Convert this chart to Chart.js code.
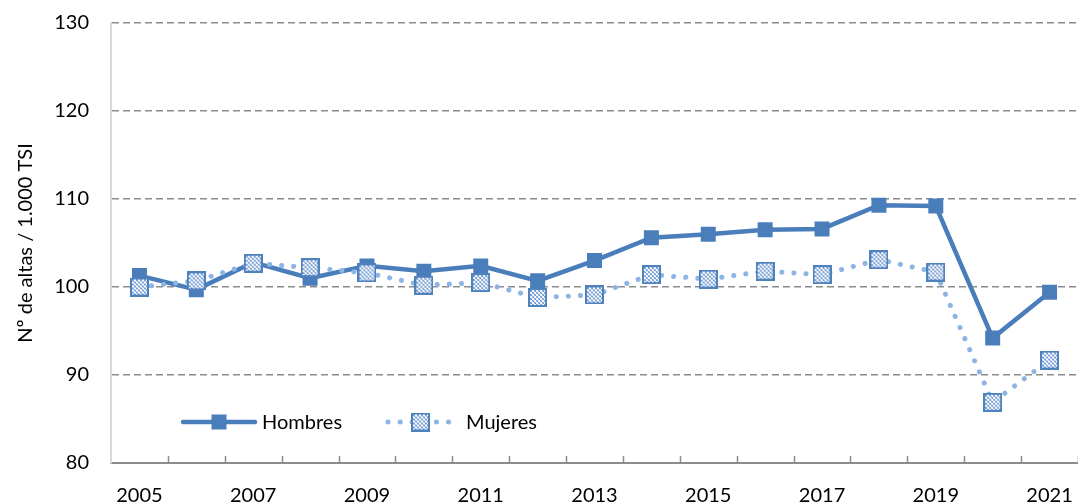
<!DOCTYPE html>
<html><head><meta charset="utf-8">
<script src="https://cdn.jsdelivr.net/npm/chart.js@4"></script>
<style>html,body{margin:0;padding:0;background:#fff}#wrap{width:1078px;height:504px}</style>
</head><body><div id="wrap"><canvas id="c" width="1078" height="504"></canvas></div>
<script>
const years = ['2005','2006','2007','2008','2009','2010','2011','2012','2013','2014','2015','2016','2017','2018','2019','2020','2021'];
const hombres = [101.3, 99.7, 102.8, 101.0, 102.4, 101.8, 102.4, 100.7, 103.0, 105.6, 106.0, 106.5, 106.6, 109.3, 109.2, 94.2, 99.4];
const mujeres = [100.0, 100.7, 102.7, 102.2, 101.6, 100.2, 100.5, 98.8, 99.1, 101.4, 100.9, 101.8, 101.4, 103.1, 101.7, 86.9, 91.7];
const yTicks = [80, 90, 100, 110, 120, 130];
const seriesNames = ['Hombres', 'Mujeres'];
const yTitle = 'Nº de altas / 1.000 TSI';

const FONT = 'Lato, "Open Sans", sans-serif';
const C_H = '#4a7ebb';
const C_M = '#8db4e2';

function makeMarker(){
  const s = 19;
  const cv = document.createElement('canvas');
  cv.width = s; cv.height = s;
  const g = cv.getContext('2d');
  g.fillStyle = '#ffffff'; g.fillRect(0,0,s,s);
  for (let y=2; y<s-2; y++){
    for (let x=2; x<s-2; x++){
      if (((x>>1)+(y>>1))%2===0) { g.fillStyle = ((x+y)%2===0) ? '#5f8cc8' : '#9ab9e4'; g.fillRect(x,y,1,1); }
    }
  }
  g.strokeStyle = '#4f81bd'; g.lineWidth = 2;
  g.strokeRect(1,1,s-2,s-2);
  return cv;
}
const mMarker = makeMarker();

const tickPlugin = {
  id: 'inTicks',
  afterDatasetsDraw(chart){
    const x = chart.scales.x, a = chart.chartArea, ctx = chart.ctx;
    const step = x.getPixelForValue(1) - x.getPixelForValue(0);
    ctx.save();
    ctx.strokeStyle = '#8c8c8c'; ctx.lineWidth = 1.5;
    for (let i=0;i<years.length;i++){
      const px = Math.round(x.getPixelForValue(i) + step/2) + 0.5;
      ctx.beginPath(); ctx.moveTo(px, a.bottom); ctx.lineTo(px, a.bottom-7); ctx.stroke();
    }
    ctx.restore();
  }
};

const legendPlugin = {
  id: 'inLegend',
  afterDraw(chart){
    const a = chart.chartArea, ctx = chart.ctx;
    const y = a.bottom - 41;
    ctx.save();
    let x0 = a.left + 72, x1 = x0 + 72;
    ctx.strokeStyle = C_H; ctx.lineWidth = 4.5; ctx.lineCap = 'round';
    ctx.beginPath(); ctx.moveTo(x0,y); ctx.lineTo(x1,y); ctx.stroke();
    ctx.fillStyle = C_H; ctx.fillRect((x0+x1)/2-7.5, y-7.5, 15, 15);
    ctx.fillStyle = '#000'; ctx.font = '20px ' + FONT; ctx.textBaseline = 'middle';
    ctx.fillText(seriesNames[0], x1 + 7, y+1);
    x0 = a.left + 277; x1 = x0 + 65;
    ctx.strokeStyle = C_M; ctx.lineWidth = 5; ctx.lineCap = 'round'; ctx.setLineDash([0.1, 12]);
    ctx.beginPath(); ctx.moveTo(x0,y); ctx.lineTo(x1,y); ctx.stroke();
    ctx.setLineDash([]);
    ctx.drawImage(mMarker, (x0+x1)/2 - mMarker.width/2, y - mMarker.height/2);
    ctx.fillStyle = '#000';
    ctx.fillText(seriesNames[1], x1 + 13, y+1);
    ctx.restore();
  }
};

new Chart(document.getElementById('c'), {
  type: 'line',
  data: {
    labels: years,
    datasets: [
      { label: seriesNames[0], data: hombres, borderColor: C_H, backgroundColor: C_H, borderWidth: 4.5,
        pointStyle: 'rect', pointRadius: 10.6, pointHoverRadius: 10.6, pointBorderWidth: 0, pointBackgroundColor: C_H,
        tension: 0, order: 1 },
      { label: seriesNames[1], data: mujeres, borderColor: C_M, backgroundColor: C_M, borderWidth: 5,
        borderDash: [0.1, 12], borderCapStyle: 'round',
        pointStyle: mMarker, pointRadius: 10, tension: 0, order: 0 }
    ]
  },
  options: {
    responsive: false, animation: false, devicePixelRatio: 1,
    layout: { autoPadding: false, padding: { top: 23, right: -3, left: 0, bottom: 0 } },
    plugins: { legend: { display: false }, tooltip: { enabled: false } },
    scales: {
      x: {
        offset: true,
        grid: { display: true, drawOnChartArea: false, drawTicks: true, tickLength: 21, tickColor: 'rgba(0,0,0,0)', offset: true },
        border: { display: true, color: '#8c8c8c', width: 2 },
        ticks: { autoSkip: false, maxRotation: 0, padding: 0, color: '#000',
          font: { family: FONT, size: 20 },
          callback: function(v, i){ return i % 2 === 0 ? years[i] : ''; } },
        afterFit: function(s){ s.height = 41; s.paddingLeft = 0; s.paddingRight = -3; }
      },
      y: {
        min: 80, max: 130,
        afterBuildTicks: function(s){ s.ticks = yTicks.map(v => ({ value: v })); },
        grid: { color: '#8c8c8c', lineWidth: 1.5, drawTicks: true, tickLength: 22, tickColor: 'rgba(0,0,0,0)' },
        border: { display: true, color: '#d9d9d9', width: 2, dash: [7, 4] },
        ticks: { padding: 0, color: '#000', font: { family: FONT, size: 20 } },
        title: { display: true, text: yTitle, color: '#000', font: { family: FONT, size: 20 }, padding: { top: 14, bottom: 0 } },
        afterFit: function(s){ s.width = 111; }
      }
    }
  },
  plugins: [tickPlugin, legendPlugin]
});
</script></body></html>
